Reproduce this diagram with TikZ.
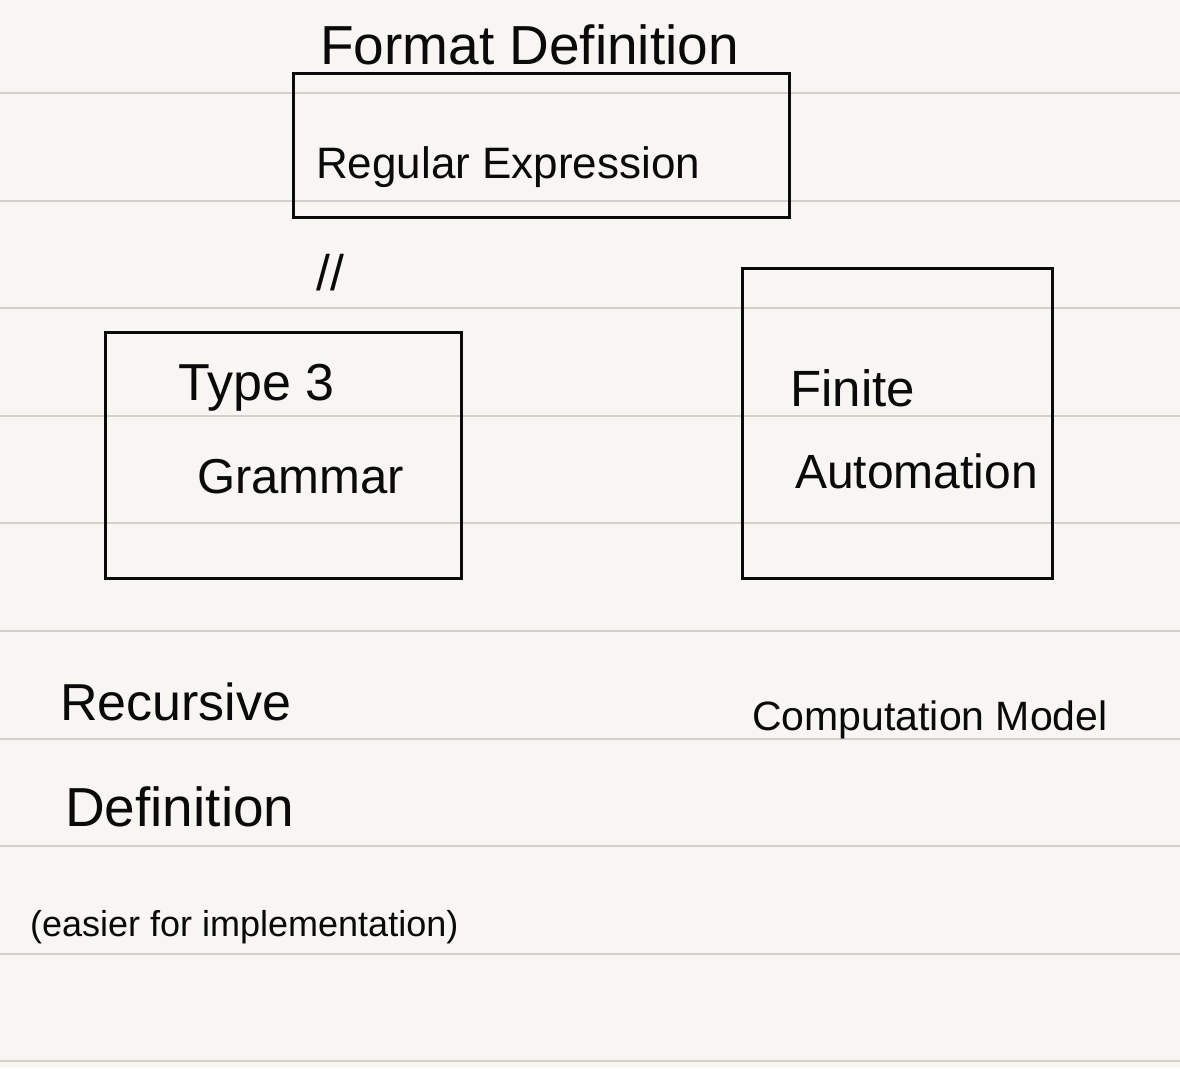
\documentclass[tikz,border=0pt]{standalone}
\usepackage{fontspec}
\setmainfont{Liberation Sans}
\definecolor{paper}{HTML}{F8F6F2}
\definecolor{rule}{HTML}{D3CFC9}
\definecolor{ink}{HTML}{0A0A0A}
\begin{document}
\begin{tikzpicture}[x=1pt,y=-1pt,
  box/.style={draw=ink,line width=3pt,rectangle,inner sep=0pt,anchor=north west},
  hand/.style={text=ink,inner sep=0pt,anchor=base west},
  ruleline/.style={draw=rule,line width=2pt}]
\fill[paper] (0,0) rectangle (1180,1068);
\useasboundingbox (0,0) rectangle (1180,1068);
\foreach \k in {0,...,9}{
  \draw[ruleline] (0,{93+107.6*\k}) -- (1180,{93+107.6*\k});
}
% boxes
\node[box,minimum width=496pt,minimum height=144pt] (regex) at (292,72) {};
\node[box,minimum width=356pt,minimum height=246pt] (grammar) at (104,331) {};
\node[box,minimum width=310pt,minimum height=310pt] (fa) at (741,267) {};
% texts
\node[hand,font=\fontsize{55}{60}\selectfont] (title) at (320,64) {Format Definition};
\node[hand,font=\fontsize{44}{50}\selectfont] (regextext) at (316,178) {Regular Expression};
\node[hand,font=\fontsize{50}{55}\selectfont] (eq) at (316,290) {//};
\node[hand,font=\fontsize{52}{58}\selectfont] (type) at (178,400) {Type 3};
\node[hand,font=\fontsize{49}{55}\selectfont] (gram) at (197,493) {Grammar};
\node[hand,font=\fontsize{51}{56}\selectfont] (finite) at (790,406) {Finite};
\node[hand,font=\fontsize{48}{54}\selectfont] (auto) at (795,488) {Automation};
\node[hand,font=\fontsize{52}{58}\selectfont] (rec) at (60,720) {Recursive};
\node[hand,font=\fontsize{55}{60}\selectfont] (def) at (65,826) {Definition};
\node[hand,font=\fontsize{36}{42}\selectfont] (easier) at (30,936) {(easier for implementation)};
\node[hand,font=\fontsize{41}{46}\selectfont] (model) at (752,730) {Computation Model};
\end{tikzpicture}
\end{document}
